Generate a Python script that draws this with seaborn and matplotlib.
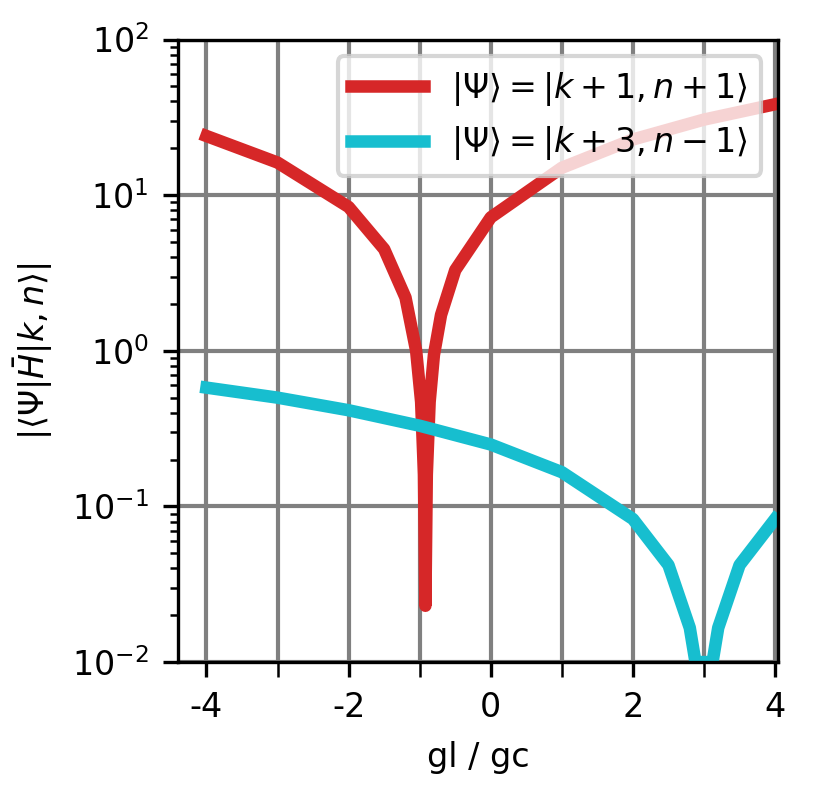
import numpy as np
import pandas as pd
import matplotlib
matplotlib.use("Agg")
import matplotlib.pyplot as plt
import seaborn as sns

# values
x_red = [-4.0, -3.0, -2.0, -1.5, -1.2, -1.05, -0.98, -0.94, -0.92, -0.90, -0.86, -0.8, -0.7, -0.5, 0.0, 1.0, 2.0, 3.0, 4.0]
y_red = [24.0, 16.2, 8.4, 4.5, 2.2, 1.0, 0.47, 0.16, 0.023, 0.16, 0.47, 0.94, 1.7, 3.3, 7.2, 15.0, 22.8, 30.6, 38.4]
x_cyan = [-4.0, -3.0, -2.0, -1.0, 0.0, 1.0, 2.0, 2.5, 2.8, 2.88, 3.12, 3.2, 3.5, 4.0]
y_cyan = [0.58, 0.50, 0.415, 0.33, 0.25, 0.166, 0.083, 0.042, 0.0166, 0.01, 0.01, 0.0166, 0.042, 0.083]
lab_red = r"$|\Psi\rangle = |k+1, n+1\rangle$"
lab_cyan = r"$|\Psi\rangle = |k+3, n-1\rangle$"

df = pd.concat([
    pd.DataFrame({"x": x_red, "y": y_red, "state": lab_red}),
    pd.DataFrame({"x": x_cyan, "y": y_cyan, "state": lab_cyan}),
])

plt.rcParams.update({"font.size": 8, "mathtext.fontset": "dejavusans"})
fig, ax = plt.subplots(figsize=(832 / 300, 791 / 300), dpi=300)
sns.lineplot(data=df, x="x", y="y", hue="state", palette=["#d62728", "#17becf"],
             linewidth=3, sort=False, ax=ax)
ax.set_yscale("log")
ax.set_ylim(1e-2, 1e2)
ax.set_xlim(-4.4, 4.04)
ax.set_xticks([-4, -2, 0, 2, 4])
ax.set_xticklabels(["-4", "-2", "0", "2", "4"])
ax.set_xticks([-3, -1, 1, 3], minor=True)
ax.tick_params(axis="x", which="minor", length=3.5)
ax.grid(True, which="major", color="gray", linewidth=1)
ax.grid(True, which="minor", axis="x", color="gray", linewidth=1)
ax.set_axisbelow(True)
ax.set_xlabel("gl / gc")
ax.set_ylabel(r"$|\langle\Psi|\bar{H}|k,n\rangle|$")
ax.legend(loc="upper right", framealpha=0.8, fontsize=8, handlelength=2.2)
fig.subplots_adjust(left=0.214, right=0.935, top=0.95, bottom=0.163)
fig.savefig("out.png", dpi=300)
